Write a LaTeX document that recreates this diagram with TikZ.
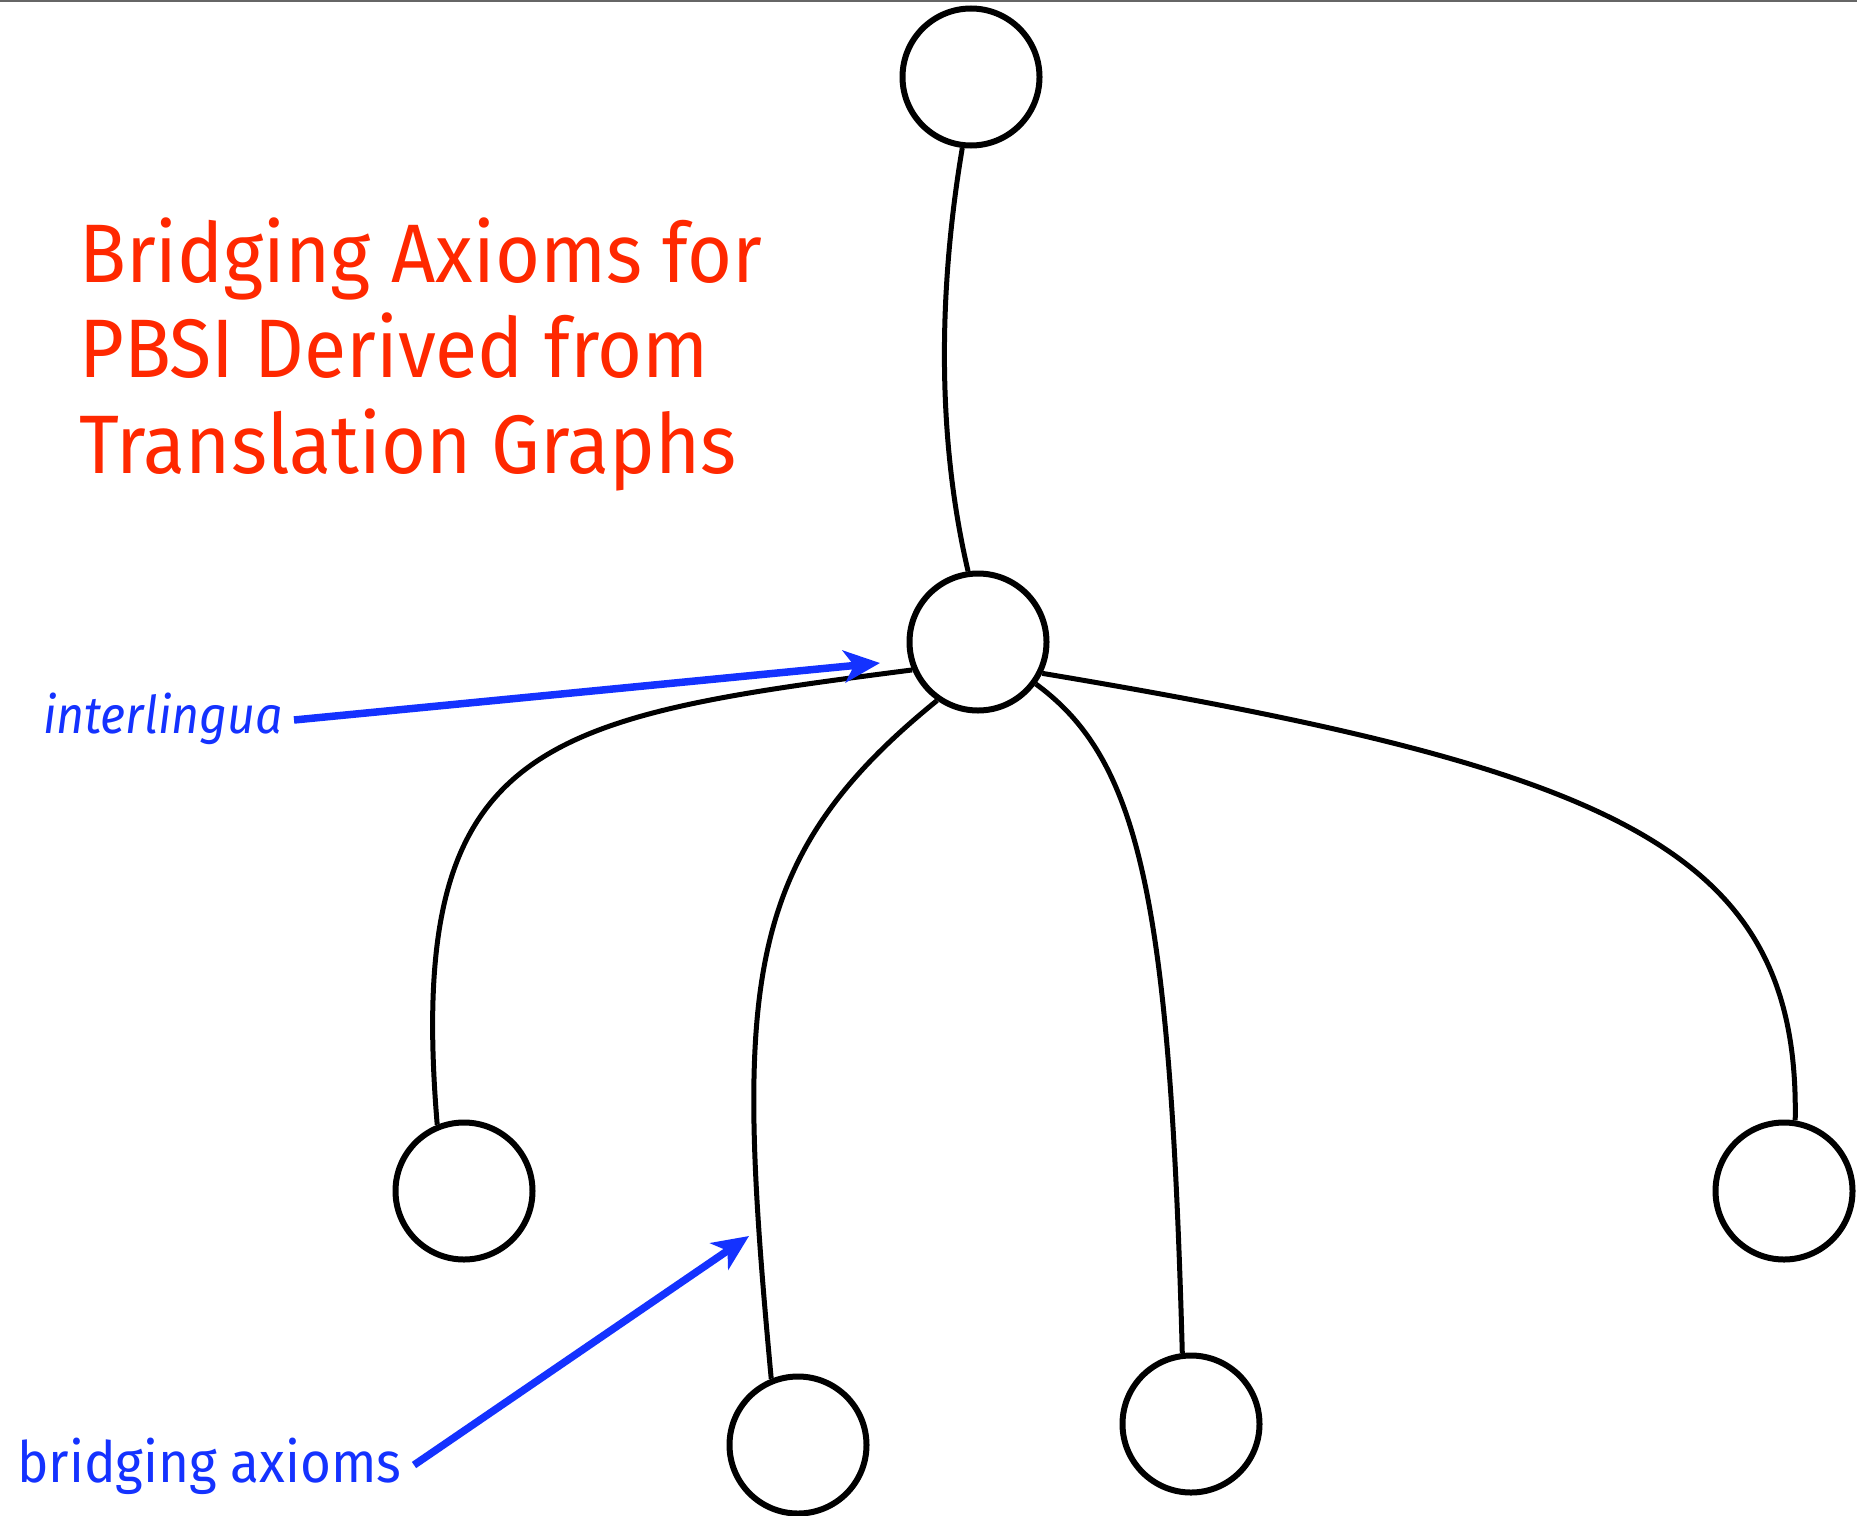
\documentclass[tikz,border=0pt]{standalone}
\usepackage{fontspec}
\setmainfont[FakeStretch=0.93]{Fira Sans}
\usetikzlibrary{arrows.meta}
\definecolor{titlered}{RGB}{255,40,0}
\definecolor{noteblue}{RGB}{20,50,255}
\tikzset{
  vertex/.style={circle, draw=black, line width=6pt, minimum size=137pt, inner sep=0pt, fill=white},
  link/.style={draw=black, line width=5pt},
  pointer/.style={draw=noteblue, line width=7.5pt, -{Stealth[length=36pt,width=32pt,inset=10pt]}},
  titleline/.style={anchor=base west, inner sep=0pt, text=titlered, font=\fontsize{83}{95}\selectfont},
  note/.style={inner sep=0pt, text=noteblue}
}
\begin{document}
\begin{tikzpicture}[x=1pt,y=-1pt]
\useasboundingbox (0,0) rectangle (1857,1515);
\fill[white] (0,0) rectangle (1857,1515);
\draw[gray!80!black, line width=2pt] (0,1) -- (1857,1);

% vertices of the translation graph
\node[vertex] (top) at (971,77) {};
\node[vertex] (hub) at (978,642) {};
\node[vertex] (left) at (464,1191) {};
\node[vertex] (bot) at (798,1445) {};
\node[vertex] (botr) at (1191,1424) {};
\node[vertex] (right) at (1784,1191) {};

% edges
\draw[link] (top.263) .. controls (940,280) and (935,430) .. (hub.98);
\draw[link] (hub.203) .. controls (540,718) and (405,740) .. (left.112);
\draw[link] (hub.235) .. controls (740,860) and (735,990) .. (bot.112);
\draw[link] (hub.324) .. controls (1140,760) and (1170,900) .. (botr.97);
\draw[link] (hub.334) .. controls (1620,770) and (1800,850) .. (right.81);

% title
\node[titleline] (t1) at (79,282) {Bridging Axioms for};
\node[titleline] (t2) at (79,377) {PBSI Derived from};
\node[titleline] (t3) at (79,473) {Translation Graphs};

% annotations
\node[note, anchor=base west, font=\itshape\fontsize{52}{60}\selectfont] (intl) at (43,733) {interlingua};
\node[note, anchor=base west, font=\fontsize{57}{66}\selectfont] (bridge) at (17,1482) {bridging axioms};
\coordinate (intlstart) at (294,720);
\coordinate (intltip) at (880,663);
\coordinate (bridgestart) at (414,1465);
\coordinate (bridgetip) at (749,1236);
\draw[pointer] (intlstart) -- (intltip);
\draw[pointer] (bridgestart) -- (bridgetip);
\end{tikzpicture}
\end{document}
